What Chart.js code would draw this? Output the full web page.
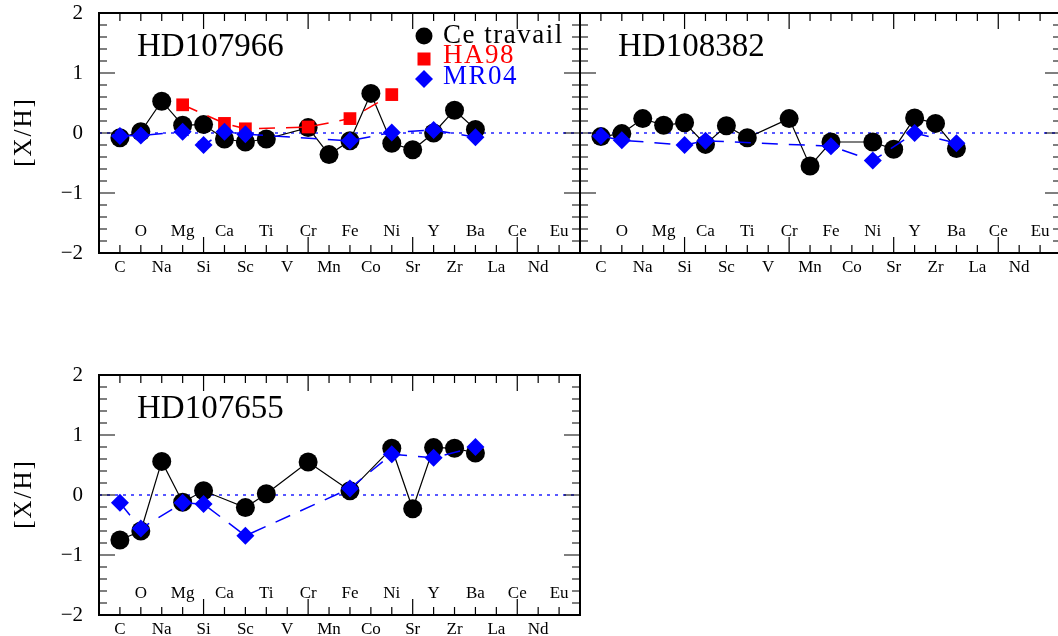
<!DOCTYPE html>
<html>
<head>
<meta charset="utf-8">
<title>[X/H]</title>
<script src="https://cdn.jsdelivr.net/npm/chart.js@4.4.1/dist/chart.umd.min.js"></script>
<style>
  html, body { margin: 0; padding: 0; background: #fff; overflow: hidden; }
  body { width: 1058px; height: 636px; position: relative; }
  canvas { position: absolute; }
</style>
</head>
<body>
<canvas id="c1" width="600" height="300" style="left:0px;top:0px"></canvas>
<canvas id="c2" width="600" height="300" style="left:481px;top:0px"></canvas>
<canvas id="c3" width="600" height="300" style="left:0px;top:362px"></canvas>
<script>
var elements = ["C", "O", "Na", "Mg", "Si", "Ca", "Sc", "Ti", "V", "Cr", "Mn",
                "Fe", "Co", "Ni", "Sr", "Y", "Zr", "Ba", "La", "Ce", "Nd", "Eu"];
var yTicks = [-2, -1, 0, 1, 2];

// HD107966
var hd107966Ce = [-0.08, 0.02, 0.53, 0.13, 0.14, -0.10, -0.15, -0.10, null, 0.09, -0.36,
                  -0.13, 0.66, -0.17, -0.28, 0.00, 0.38, 0.06, null, null, null, null];
var hd107966Ha = [null, null, null, 0.47, null, 0.16, 0.07, null, null, 0.10, null,
                  0.24, null, 0.64, null, null, null, null, null, null, null, null];
var hd107966Mr = [-0.05, -0.04, null, 0.02, -0.20, 0.02, -0.02, null, null, null, null,
                  -0.13, null, 0.01, null, 0.05, null, -0.07, null, null, null, null];

// HD108382
var hd108382Ce = [-0.06, -0.01, 0.24, 0.13, 0.17, -0.19, 0.12, -0.08, null, 0.24, -0.55,
                  -0.15, null, -0.15, -0.27, 0.25, 0.16, -0.26, null, null, null, null];
var hd108382Mr = [-0.05, -0.12, null, null, -0.20, -0.13, null, null, null, null, null,
                  -0.22, null, -0.46, null, 0.00, null, -0.17, null, null, null, null];

// HD107655
var hd107655Ce = [-0.75, -0.60, 0.56, -0.12, 0.07, null, -0.21, 0.02, null, 0.55, null,
                  0.07, null, 0.78, -0.23, 0.79, 0.78, 0.70, null, null, null, null];
var hd107655Mr = [-0.13, -0.56, null, -0.13, -0.15, null, -0.68, null, null, null, null,
                  0.11, null, 0.68, null, 0.62, null, 0.80, null, null, null, null];

var serif = "'Liberation Serif', serif";
Chart.defaults.color = "#000";

function points(vals) {
    var out = [];
    vals.forEach(function (v, i) {
        if (v !== null) out.push({x: i, y: v});
    });
    return out;
}

function fmt(v) {
    return v < 0 ? "\u2212" + (-v) : "" + v;
}

// frame, inward ticks, zero line, upper row of element names, titles
var decor = {
    id: "decor",
    beforeDatasetsDraw: function (chart, args, opts) {
        var ctx = chart.ctx, a = chart.chartArea;
        var y0 = chart.scales.y.getPixelForValue(0);
        ctx.save();
        ctx.strokeStyle = "#2222ff";
        ctx.lineWidth = 1.4;
        ctx.setLineDash([3, 5]);
        ctx.beginPath();
        ctx.moveTo(a.left, y0);
        ctx.lineTo(a.right, y0);
        ctx.stroke();
        ctx.restore();
    },
    afterDraw: function (chart, args, opts) {
        var ctx = chart.ctx, a = chart.chartArea;
        var xs = chart.scales.x, ys = chart.scales.y;
        ctx.save();
        ctx.strokeStyle = "#000";
        ctx.lineWidth = 1.2;
        ctx.beginPath();
        for (var i = -1; i <= 22; i++) {
            var px = xs.getPixelForValue(i);
            var len = ((i + 1) % 5 === 0) ? 16 : 8;
            ctx.moveTo(px, a.bottom); ctx.lineTo(px, a.bottom - len);
            ctx.moveTo(px, a.top); ctx.lineTo(px, a.top + len);
        }
        for (var k = -10; k <= 10; k++) {
            var py = ys.getPixelForValue(k / 5);
            var l = (k % 5 === 0) ? 16 : 8;
            ctx.moveTo(a.left, py); ctx.lineTo(a.left + l, py);
            ctx.moveTo(a.right, py); ctx.lineTo(a.right - l, py);
        }
        ctx.stroke();
        ctx.lineWidth = 2;
        ctx.strokeRect(a.left, a.top, a.right - a.left, a.bottom - a.top);

        ctx.fillStyle = "#000";
        ctx.font = "17px " + serif;
        ctx.textAlign = "center";
        ctx.textBaseline = "alphabetic";
        elements.forEach(function (e, i) {
            if (i % 2 === 1) ctx.fillText(e, xs.getPixelForValue(i), ys.getPixelForValue(-1.71));
        });

        ctx.textAlign = "left";
        ctx.font = "33px " + serif;
        ctx.fillText(opts.title, a.left + 38, a.top + 43);

        if (opts.yTitle) {
            ctx.save();
            ctx.translate(31, (a.top + a.bottom) / 2);
            ctx.rotate(-Math.PI / 2);
            ctx.font = "25px " + serif;
            ctx.letterSpacing = "2px";
            ctx.textAlign = "center";
            ctx.textBaseline = "alphabetic";
            ctx.fillText("[X/H]", 1, 0);
            ctx.restore();
        }

        if (opts.legend) {
            var lx = a.left + 325, tx = a.left + 344;
            ctx.font = "27px " + serif;
            ctx.letterSpacing = "1.5px";
            ctx.fillStyle = "#000";
            ctx.beginPath(); ctx.arc(lx, a.top + 23, 8.5, 0, Math.PI * 2); ctx.fill();
            ctx.fillText("Ce travail", tx, a.top + 30);
            ctx.fillStyle = "#ff0000";
            ctx.fillRect(lx - 6.5, a.top + 39.5, 13, 13);
            ctx.fillText("HA98", tx, a.top + 50);
            ctx.fillStyle = "#0000ff";
            ctx.beginPath();
            ctx.moveTo(lx, a.top + 57); ctx.lineTo(lx + 9, a.top + 66);
            ctx.lineTo(lx, a.top + 75); ctx.lineTo(lx - 9, a.top + 66);
            ctx.closePath(); ctx.fill();
            ctx.fillText("MR04", tx, a.top + 71);
        }
        ctx.restore();
    }
};

function ceSet(vals) {
    return {
        label: "Ce travail", data: points(vals), order: 2,
        borderColor: "#000", borderWidth: 1.2, backgroundColor: "#000",
        pointStyle: "circle", pointRadius: 9.5, pointBorderWidth: 0, pointBackgroundColor: "#000"
    };
}
function haSet(vals) {
    return {
        label: "HA98", data: points(vals), order: 1,
        borderColor: "#ff0000", borderWidth: 1.5, borderDash: [16, 11], backgroundColor: "#ff0000",
        pointStyle: "rect", pointRadius: 9, pointBorderWidth: 0, pointBackgroundColor: "#ff0000"
    };
}
function mrSet(vals) {
    return {
        label: "MR04", data: points(vals), order: 0,
        borderColor: "#0000ff", borderWidth: 1.5, borderDash: [16, 11], backgroundColor: "#0000ff",
        pointStyle: "rectRot", pointRadius: 9, pointBorderWidth: 0, pointBackgroundColor: "#0000ff"
    };
}

function makeChart(id, title, sets, showY, legend) {
    return new Chart(document.getElementById(id), {
        type: "line",
        data: {datasets: sets},
        plugins: [decor],
        options: {
            responsive: false,
            animation: false,
            events: [],
            layout: {padding: {left: 0, right: 20, top: 13, bottom: 7}},
            plugins: {
                legend: {display: false},
                tooltip: {enabled: false},
                decor: {title: title, yTitle: showY, legend: legend}
            },
            scales: {
                x: {
                    type: "linear", min: -1, max: 22,
                    afterFit: function (s) {
                        s.height = 40;
                        s.paddingLeft = 0; s.paddingRight = 0;
                    },
                    grid: {display: false, drawTicks: false},
                    border: {display: false},
                    ticks: {
                        stepSize: 1, autoSkip: false, maxRotation: 0, maxTicksLimit: 40, padding: 4,
                        font: {family: serif, size: 17},
                        callback: function (v) {
                            return (Number.isInteger(v) && v >= 0 && v < elements.length && v % 2 === 0) ? elements[v] : "";
                        }
                    }
                },
                y: {
                    type: "linear", min: yTicks[0], max: yTicks[yTicks.length - 1],
                    afterFit: function (s) {
                        s.width = 99;
                        s.paddingTop = 0; s.paddingBottom = 0;
                    },
                    grid: {display: false, drawTicks: false},
                    border: {display: false},
                    ticks: {
                        stepSize: 1, padding: 16,
                        font: {family: serif, size: 21},
                        callback: function (v) { return showY ? fmt(v) : ""; }
                    }
                }
            }
        }
    });
}

makeChart("c1", "HD107966", [ceSet(hd107966Ce), haSet(hd107966Ha), mrSet(hd107966Mr)], true, true);
makeChart("c2", "HD108382", [ceSet(hd108382Ce), mrSet(hd108382Mr)], false, false);
makeChart("c3", "HD107655", [ceSet(hd107655Ce), mrSet(hd107655Mr)], true, false);
</script>
</body>
</html>
